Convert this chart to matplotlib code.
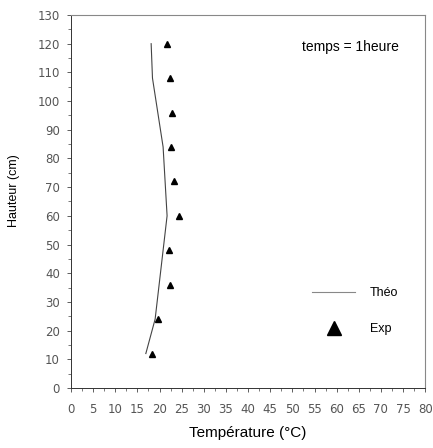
import numpy as np
import matplotlib.pyplot as plt
from matplotlib.lines import Line2D

# Theoretical profile (Théo)
theo_temp = [16.9, 19.0, 21.7, 20.8, 19.6, 18.4, 18.1]
theo_height = [12, 24, 60, 84, 96, 108, 120]

# Experimental points (Exp)
exp_temp = [18.4, 19.7, 22.3, 22.2, 24.3, 23.3, 22.5, 22.8, 22.3, 21.7]
exp_height = [12, 24, 36, 48, 60, 72, 84, 96, 108, 120]

fig = plt.figure(figsize=(4.33, 4.48), dpi=100)
ax = fig.add_axes([0.164, 0.134, 0.818, 0.8325])

ax.plot(theo_temp, theo_height, color='#444444', lw=0.8)
ax.plot(exp_temp, exp_height, linestyle='none', marker='^', color='black', markersize=5)

ax.set_xlim(0, 80)
ax.set_ylim(0, 130)
ax.set_xticks(np.arange(0, 81, 5))
ax.set_xticks(np.arange(0, 81, 2.5), minor=True)
ax.set_yticks(np.arange(0, 131, 10))
ax.set_yticks(np.arange(0, 131, 5), minor=True)
ax.tick_params(axis='both', which='major', length=3, width=0.6, labelsize=8.5,
               labelcolor='#555555', color='#444444')
ax.tick_params(axis='x', which='major', pad=8)
ax.tick_params(axis='y', which='major', pad=5)
ax.tick_params(axis='both', which='minor', length=2, width=0.5, color='#444444')

for side in ['left', 'bottom']:
    ax.spines[side].set_color('#333333')
    ax.spines[side].set_linewidth(0.7)
for side in ['top', 'right']:
    ax.spines[side].set_color('#888888')
    ax.spines[side].set_linewidth(0.8)

ax.set_xlabel('Température (°C)', fontsize=11, family='Liberation Sans')
ax.xaxis.set_label_coords(0.5, -0.102)
ax.set_ylabel('Hauteur (cm)', fontsize=9, family='Liberation Sans')
ax.yaxis.set_label_coords(-0.144, 0.53)

ax.text(52.1, 118.9, 'temps = 1heure', fontsize=10, family='Liberation Sans',
        ha='left', va='center')

handles = [Line2D([], [], color='#888888', lw=0.8),
           Line2D([], [], linestyle='none', marker='^', color='black', markersize=10)]
ax.legend(handles, ['Théo', 'Exp'], loc='center left',
          bbox_to_anchor=(312 / 433, 1 - 311 / 448), bbox_transform=fig.transFigure,
          borderaxespad=0, borderpad=0, frameon=False,
          prop={'family': 'Liberation Sans', 'size': 9},
          handlelength=3.45, handletextpad=1.2, labelspacing=1.9)

fig.savefig('out.png', dpi=100)
